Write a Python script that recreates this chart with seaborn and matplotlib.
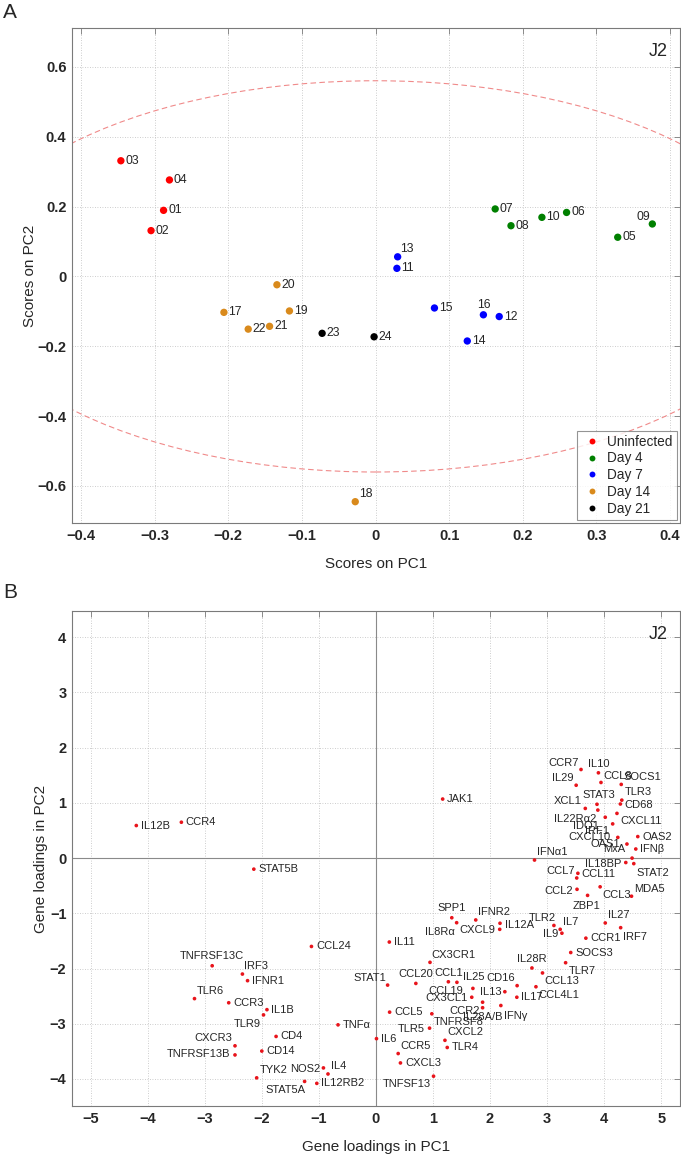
import numpy as np
import pandas as pd
import matplotlib
matplotlib.use('Agg')
import matplotlib.pyplot as plt
import seaborn as sns
from matplotlib.patches import Ellipse

sns.set_style('white')
plt.rcParams['font.family'] = ['Liberation Sans', 'DejaVu Sans']

# ---- Panel A: sample scores ----
sample_ids = ['01', '02', '03', '04', '05', '06', '07', '08', '09', '10', '11', '12',
              '13', '14', '15', '16', '17', '18', '19', '20', '21', '22', '23', '24']
sample_group = ['Uninfected'] * 4 + ['Day 4'] * 6 + ['Day 7'] * 6 + ['Day 14'] * 6 + ['Day 21'] * 2
score_pc1 = [-0.288, -0.305, -0.346, -0.280, 0.329, 0.2595, 0.1625, 0.184, 0.376, 0.226, 0.029, 0.168,
             0.030, 0.1246, 0.080, 0.1465, -0.206, -0.0276, -0.117, -0.134, -0.144, -0.173, -0.0726, -0.002]
score_pc2 = [0.189, 0.131, 0.331, 0.276, 0.112, 0.183, 0.193, 0.145, 0.150, 0.169, 0.023, -0.115,
             0.056, -0.185, -0.0905, -0.110, -0.103, -0.645, -0.099, -0.024, -0.143, -0.151, -0.163, -0.173]
group_order = ['Uninfected', 'Day 4', 'Day 7', 'Day 14', 'Day 21']
group_colors = ['#ff0000', '#008000', '#0000ff', '#d98a1c', '#000000']
# confidence ellipse half-axes
ellipse_a, ellipse_b = 0.563, 0.56

a_xticks = [-0.4, -0.3, -0.2, -0.1, 0, 0.1, 0.2, 0.3, 0.4]
a_xticklabels = ['\u22120.4', '\u22120.3', '\u22120.2', '\u22120.1', '0', '0.1', '0.2', '0.3', '0.4']
a_yticks = [-0.6, -0.4, -0.2, 0, 0.2, 0.4, 0.6]
a_yticklabels = ['\u22120.6', '\u22120.4', '\u22120.2', '0', '0.2', '0.4', '0.6']

# label offsets (pixels) for sample ids that are not simply right of the dot
a_label_pos = {'09': (-15.5, 7.3), '13': (2.6, 8), '16': (-6, 9.7), '18': (3.5, 7.7)}

# ---- Panel B: gene loadings ----
genes = ['CCR7', 'IL10', 'CCL8', 'SOCS1', 'IL29', 'TLR3', 'CD68', 'STAT3', 'XCL1', 'IL22R\u03b12',
         'CXCL11', 'IDO1', 'IRF1', 'CXCL10', 'OAS2', 'OAS1', 'IFN\u03b2', 'MxA', 'IL18BP', 'STAT2',
         'IFN\u03b11', 'CCL7', 'CCL11', 'CCL2', 'CCL3', 'MDA5', 'ZBP1', 'TLR2', 'IL7', 'IL9',
         'IL27', 'IRF7', 'CCR1', 'SOCS3', 'TLR7', 'IL28R', 'CCL13', 'CCL4L1', 'CD16', 'IL17',
         'IL13', 'IFN\u03b3', 'IL28A/B', 'CCR2', 'CX3CL1', 'CCL19', 'IL25', 'CCL1', 'CCL20', 'STAT1',
         'CX3CR1', 'IL11', 'SPP1', 'IL8R\u03b1', 'IFNR2', 'CXCL9', 'IL12A', 'CCL24', 'JAK1', 'CCL5',
         'TNFRSF8', 'TLR5', 'CXCL2', 'TLR4', 'CCR5', 'CXCL3', 'TNFSF13', 'IL6', 'TNF\u03b1', 'IL4',
         'NOS2', 'IL12RB2', 'STAT5A', 'TYK2', 'CD14', 'CD4', 'CXCR3', 'TNFRSF13B', 'TLR9', 'IL1B',
         'CCR3', 'TLR6', 'IFNR1', 'IRF3', 'TNFRSF13C', 'STAT5B', 'CCR4', 'IL12B']
load_pc1 = [3.595, 3.90, 3.945, 4.30, 3.51, 4.31, 4.285, 3.875, 3.67, 3.89,
            4.225, 4.02, 4.15, 4.24, 4.59, 4.40, 4.555, 4.49, 4.38, 4.52,
            2.78, 3.54, 3.52, 3.525, 3.93, 4.48, 3.71, 3.12, 3.23, 3.26,
            4.02, 4.29, 3.68, 3.415, 3.325, 2.735, 2.92, 2.805, 2.475, 2.47,
            2.26, 2.19, 1.87, 1.87, 1.68, 1.70, 1.42, 1.27, 0.70, 0.205,
            0.948, 0.235, 1.33, 1.415, 1.75, 2.17, 2.175, -1.13, 1.17, 0.24,
            0.98, 0.94, 1.21, 1.25, 0.39, 0.43, 1.01, 0.01, -0.664, -0.84,
            -0.92, -1.036, -1.25, -2.09, -2.00, -1.75, -2.47, -2.47, -1.97, -1.91,
            -2.58, -3.18, -2.25, -2.34, -2.87, -2.14, -3.41, -4.20]
load_pc2 = [1.605, 1.545, 1.37, 1.335, 1.32, 1.05, 0.98, 0.975, 0.90, 0.87,
            0.81, 0.74, 0.62, 0.375, 0.39, 0.255, 0.165, 0.0, -0.08, -0.10,
            -0.035, -0.275, -0.36, -0.565, -0.52, -0.69, -0.675, -1.22, -1.29, -1.36,
            -1.175, -1.26, -1.45, -1.71, -1.895, -1.99, -2.08, -2.33, -2.31, -2.52,
            -2.42, -2.67, -2.61, -2.71, -2.52, -2.36, -2.25, -2.24, -2.27, -2.30,
            -1.888, -1.52, -1.08, -1.17, -1.12, -1.29, -1.18, -1.60, 1.07, -2.79,
            -2.82, -3.08, -3.30, -3.43, -3.54, -3.71, -3.95, -3.27, -3.02, -3.91,
            -3.80, -4.08, -4.045, -3.98, -3.495, -3.23, -3.40, -3.565, -2.84, -2.745,
            -2.62, -2.545, -2.22, -2.10, -1.95, -0.20, 0.65, 0.59]

# label placement (dx px, dy px, alignment); default is right of the dot
b_label_pos = {
    'CCR7': (-2.7, 7, 'right'), 'IL10': (0.5, 9.3, 'center'), 'CCL8': (2.3, 6.7, 'left'),
    'SOCS1': (2.3, 7, 'left'), 'IL29': (-2.3, 7.3, 'right'), 'TLR3': (2.7, 8.3, 'left'),
    'CD68': (3.7, -1, 'left'), 'STAT3': (1.8, 9.3, 'center'), 'XCL1': (-3.7, 7.7, 'right'),
    'IL22R\u03b12': (-1.7, -9, 'right'), 'CXCL11': (3, -7.3, 'left'), 'IDO1': (-6.7, -8.7, 'right'),
    'IRF1': (-3.3, -7, 'right'), 'CXCL10': (-7, 0.3, 'right'), 'OAS1': (-7.3, 0, 'right'),
    'MxA': (-7, 9, 'right'), 'IL18BP': (-4, -1.3, 'right'), 'STAT2': (3, -9, 'left'),
    'IFN\u03b11': (2.3, 8.3, 'left'), 'CCL7': (-2.7, 2.7, 'right'), 'CCL11': (5, 4, 'left'),
    'CCL2': (-3.7, -1.3, 'right'), 'CCL3': (2.3, -8.3, 'left'), 'MDA5': (2.3, 7.7, 'left'),
    'ZBP1': (-0.7, -10.7, 'center'), 'TLR2': (2, 7.7, 'right'), 'IL7': (2.7, 7.7, 'left'),
    'IL9': (-3.7, -0.7, 'right'), 'IL27': (2.3, 8, 'left'), 'IRF7': (2.7, -9, 'left'),
    'TLR7': (2.7, -8, 'left'), 'IL28R': (0, 9, 'center'), 'CCL13': (2.3, -8, 'left'),
    'CCL4L1': (2.3, -8.3, 'left'), 'CD16': (-2, 8, 'right'), 'IL13': (-3, -0.7, 'right'),
    'IFN\u03b3': (3, -10.3, 'left'), 'IL28A/B': (0, -14.3, 'center'), 'CCR2': (-2.3, -3, 'right'),
    'CX3CL1': (-4.3, -0.3, 'right'), 'CCL19': (-9.3, -2.3, 'right'), 'IL25': (6, 5, 'left'),
    'CCL1': (0, 8.3, 'center'), 'CCL20': (0, 9.3, 'center'), 'STAT1': (-1, 7.3, 'right'),
    'CX3CR1': (1.7, 7.3, 'left'), 'SPP1': (0.3, 9.3, 'center'), 'IL8R\u03b1': (-1.7, -9, 'right'),
    'IFNR2': (2.7, 7.7, 'left'), 'CXCL9': (-4.7, -0.7, 'right'), 'IL12A': (5, -1.7, 'left'),
    'TNFRSF8': (2.3, -8.3, 'left'), 'TLR5': (-4.3, -0.7, 'right'), 'CXCL2': (2, 8, 'left'),
    'CCR5': (2.3, 8, 'left'), 'TNFSF13': (-3, -8, 'right'), 'IL4': (2.6, 7.7, 'left'),
    'NOS2': (-3.3, -1.3, 'right'), 'STAT5A': (1.3, -8.7, 'right'), 'TYK2': (3, 8.3, 'left'),
    'CXCR3': (-2.7, 8, 'right'), 'TNFRSF13B': (-4.3, 0.7, 'right'), 'TLR9': (-2.3, -9, 'right'),
    'TLR6': (2.7, 8, 'left'), 'IRF3': (2, 8, 'left'), 'TNFRSF13C': (0, 9.3, 'center'),
}

b_xticks = [-5, -4, -3, -2, -1, 0, 1, 2, 3, 4, 5]
b_xticklabels = ['\u22125', '\u22124', '\u22123', '\u22122', '\u22121', '0', '1', '2', '3', '4', '5']
b_yticks = [-4, -3, -2, -1, 0, 1, 2, 3, 4]
b_yticklabels = ['\u22124', '\u22123', '\u22122', '\u22121', '0', '1', '2', '3', '4']

df_a = pd.DataFrame({'id': sample_ids, 'group': sample_group, 'pc1': score_pc1, 'pc2': score_pc2})
df_b = pd.DataFrame({'gene': genes, 'pc1': load_pc1, 'pc2': load_pc2})

fig = plt.figure(figsize=(6.81, 11.57), dpi=100)
ax_a = fig.add_axes([72 / 681, 1 - 523 / 1157, 608 / 681, 495 / 1157])
ax_b = fig.add_axes([72 / 681, 1 - 1106 / 1157, 608 / 681, 495 / 1157])


def style_axes(ax):
    ax.grid(True, linestyle=(0, (1, 2)), color='#bdbdbd', linewidth=0.6)
    ax.set_axisbelow(True)
    for sp in ax.spines.values():
        sp.set_color('#7a7a7a')
        sp.set_linewidth(0.8)
    ax.tick_params(direction='in', length=4, width=0.6, color='#7a7a7a',
                   top=True, right=True, labelsize=10.5, pad=4)
    for lab in ax.get_xticklabels() + ax.get_yticklabels():
        lab.set_fontweight('bold')


# Panel A
sns.scatterplot(data=df_a, x='pc1', y='pc2', hue='group', hue_order=group_order,
                palette=dict(zip(group_order, group_colors)), s=28, edgecolor='none',
                ax=ax_a, zorder=3)
ax_a.add_patch(Ellipse((0, 0), 2 * ellipse_a, 2 * ellipse_b, fill=False,
                       edgecolor='#f08a8a', linestyle=(0, (5, 3)), linewidth=0.8))
for sid, x, y in zip(sample_ids, score_pc1, score_pc2):
    dx, dy = a_label_pos.get(sid, (4.5, 0))
    ax_a.annotate(sid, (x, y), xytext=(dx, dy), textcoords='offset pixels',
                  ha='left', va='center', fontsize=8.8)
ax_a.set_xlim(-0.4124, 0.4136)
ax_a.set_ylim(-0.706, 0.711)
ax_a.set_xticks(a_xticks)
ax_a.set_xticklabels(a_xticklabels)
ax_a.set_yticks(a_yticks)
ax_a.set_yticklabels(a_yticklabels)
ax_a.set_xlabel('Scores on PC1', fontsize=11, labelpad=10.5)
ax_a.set_ylabel('Scores on PC2', fontsize=11, labelpad=0)
style_axes(ax_a)
ax_a.text(0.979, 0.952, 'J2', transform=ax_a.transAxes, ha='right', va='center', fontsize=13)
leg = ax_a.legend(loc='lower right', fontsize=9.8, frameon=True, fancybox=False,
                  edgecolor='#7a7a7a', borderaxespad=0.25, handletextpad=0.3,
                  labelspacing=0.2, borderpad=0.3, handlelength=1.6, markerscale=0.8)
leg.get_frame().set_linewidth(0.8)

# Panel B
ax_b.axhline(0, color='#8a8a8a', linewidth=0.8, zorder=1)
ax_b.axvline(0, color='#8a8a8a', linewidth=0.8, zorder=1)
sns.scatterplot(data=df_b, x='pc1', y='pc2', color='#e8141b', s=7, edgecolor='none',
                ax=ax_b, zorder=3)
for g, x, y in zip(genes, load_pc1, load_pc2):
    dx, dy, ha = b_label_pos.get(g, (4.5, 0, 'left'))
    ax_b.annotate(g, (x, y), xytext=(dx, dy), textcoords='offset pixels',
                  ha=ha, va='center', fontsize=8)
ax_b.set_xlim(-5.327, 5.33)
ax_b.set_ylim(-4.49, 4.476)
ax_b.set_xticks(b_xticks)
ax_b.set_xticklabels(b_xticklabels)
ax_b.set_yticks(b_yticks)
ax_b.set_yticklabels(b_yticklabels)
ax_b.set_xlabel('Gene loadings in PC1', fontsize=11, labelpad=10.5)
ax_b.set_ylabel('Gene loadings in PC2', fontsize=11, labelpad=1)
style_axes(ax_b)
ax_b.text(0.979, 0.952, 'J2', transform=ax_b.transAxes, ha='right', va='center', fontsize=13)

fig.text(3 / 681, 1 - 12 / 1157, 'A', fontsize=15, ha='left', va='center')
fig.text(3 / 681, 1 - 593 / 1157, 'B', fontsize=15, ha='left', va='center')

fig.savefig('out.png', dpi=100)
